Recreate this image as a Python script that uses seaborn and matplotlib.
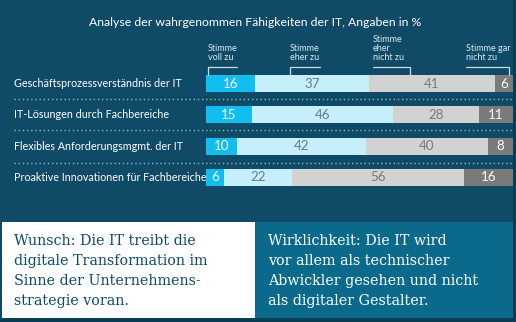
import matplotlib
matplotlib.use("Agg")
import matplotlib.pyplot as plt
from matplotlib.patches import Rectangle
from matplotlib.lines import Line2D
import seaborn as sns
import pandas as pd
import numpy as np

# --- data -------------------------------------------------------------
categories = [
    "Geschäftsprozessverständnis der IT",
    "IT-Lösungen durch Fachbereiche",
    "Flexibles Anforderungsmgmt. der IT",
    "Proaktive Innovationen für Fachbereiche",
]
voll_zu = [16, 15, 10, 6]
eher_zu = [37, 46, 42, 22]
eher_nicht_zu = [41, 28, 40, 56]
gar_nicht_zu = [6, 11, 8, 16]

answer_labels = ["Stimme\nvoll zu", "Stimme\neher zu", "Stimme\neher\nnicht zu", "Stimme gar\nnicht zu"]
title = "Analyse der wahrgenommen Fähigkeiten der IT, Angaben in %"
wish_text = "Wunsch: Die IT treibt die\ndigitale Transformation im\nSinne der Unternehmens-\nstrategie voran."
reality_text = "Wirklichkeit: Die IT wird\nvor allem als technischer\nAbwickler gesehen und nicht\nals digitaler Gestalter."

# --- styling ------------------------------------------------------------
BG = "#0f4b67"
TEAL = "#0b6a8c"
seg_colors = ["#12bdf0", "#c6effc", "#d2d2d2", "#7b7b7b"]
val_colors = ["white", "#6b7b82", "#7a7a7a", "white"]

sns.set_theme(style="white")
plt.rcParams["font.family"] = ["Lato", "DejaVu Sans"]

W, H = 516, 322
fig = plt.figure(figsize=(W / 100, H / 100), dpi=100, facecolor=BG)


def fx(px):
    return px / W


def fy(py):
    return 1 - py / H


# bar axes: 0..100 % between x=206 and x=513 px
ax = fig.add_axes([fx(206), fy(193), fx(513) - fx(206), (193 - 68) / H])
ax.set_facecolor("none")

series = [voll_zu, eher_zu, eher_nicht_zu, gar_nicht_zu]
cum = np.cumsum(np.array(series), axis=0)  # running totals per segment
df = pd.DataFrame({"cat": categories})

# draw stacked segments: longest running total first, shorter ones on top
for i in range(3, -1, -1):
    df["val"] = cum[i]
    sns.barplot(data=df, x="val", y="cat", orient="h", color=seg_colors[i],
                saturation=1, width=0.55, ax=ax, linewidth=0)

for r in range(len(categories)):
    start = 0
    for i, s in enumerate(series):
        v = s[r]
        ax.text(start + v / 2, r, str(v), ha="center", va="center",
                color=val_colors[i], fontsize=9.6)
        start += v

ax.set_xlim(0, 100)
ax.set_ylim(3.5, -0.5)
ax.set_xlabel("")
ax.set_ylabel("")
ax.set_xticks([])
ax.set_yticks([])
for sp in ax.spines.values():
    sp.set_visible(False)

# category labels on the left
trans = matplotlib.transforms.blended_transform_factory(fig.transFigure, ax.transData)
for r, c in enumerate(categories):
    ax.text(fx(14), r, c, transform=trans, ha="left", va="center",
            color="white", fontsize=7.75)

# dotted separators between rows
for yy in [98.5, 130, 162.5]:
    fig.add_artist(Line2D([fx(14), fx(513)], [fy(yy), fy(yy)], color="#8fb3c4",
                          linestyle=(0, (1, 2)), linewidth=1.0))

# title
fig.text(fx(255), fy(22), title, ha="center", va="center", color="white", fontsize=8.8)

# answer headers with brackets
hdr_x = [208, 290, 373, 466]
hdr_bottom = 62
for x0, lab in zip(hdr_x, answer_labels):
    fig.text(fx(x0), fy(hdr_bottom), lab, ha="left", va="bottom", color="#dbe8ee",
             fontsize=6.5, linespacing=0.97)

bracket_col = "#c9dbe3"
# (horizontal start, horizontal end, x of the downward tick)
brackets = [(208, 237, 208), (290, 320, 290), (373, 410, 410), (466, 509, 509)]
for xa, xb, xt in brackets:
    fig.add_artist(Line2D([fx(xa), fx(xb)], [fy(66.5), fy(66.5)], color=bracket_col, lw=0.9))
    fig.add_artist(Line2D([fx(xt), fx(xt)], [fy(66.5), fy(75)], color=bracket_col, lw=0.9))

# bottom statement boxes
fig.add_artist(Rectangle((fx(2), fy(318)), fx(255) - fx(2), (318 - 222) / H,
                         transform=fig.transFigure, facecolor="white", edgecolor="none"))
fig.add_artist(Rectangle((fx(255), fy(318)), fx(513) - fx(255), (318 - 222) / H,
                         transform=fig.transFigure, facecolor=TEAL, edgecolor="none"))

fig.text(fx(14), fy(234), wish_text, ha="left", va="top", color="#0f4a66",
         fontsize=10.3, family="DejaVu Serif", linespacing=1.55)
fig.text(fx(268), fy(234), reality_text, ha="left", va="top", color="white",
         fontsize=10.3, family="DejaVu Serif", linespacing=1.55)

# thin darker frame on the right and bottom
fig.add_artist(Rectangle((fx(513), 0), 1 - fx(513), 1, transform=fig.transFigure,
                         facecolor="#0a3d55", edgecolor="none"))
fig.add_artist(Rectangle((0, 0), 1, fy(318), transform=fig.transFigure,
                         facecolor="#0a3d55", edgecolor="none"))

fig.savefig("out.png", dpi=100, facecolor=BG)
